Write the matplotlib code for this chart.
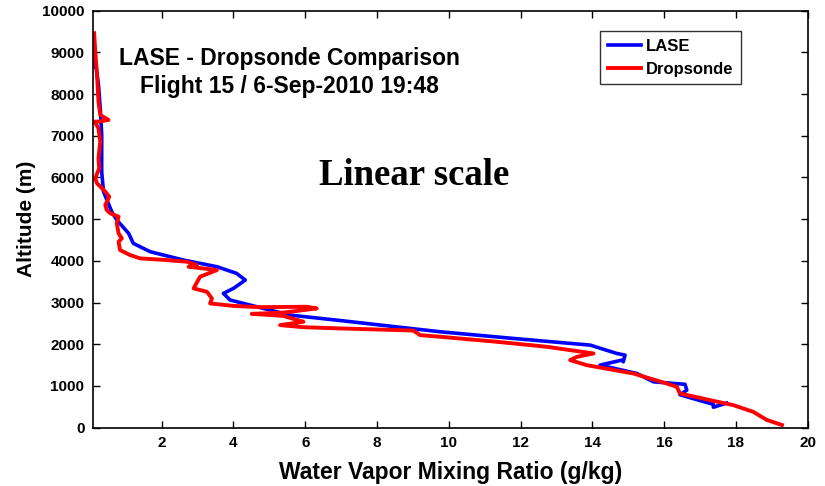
import matplotlib
matplotlib.use("Agg")
import matplotlib.pyplot as plt

# LASE profile (g/kg, m), traced top to bottom
lase_q = [0.15, 0.13, 0.24, 0.29, 0.33, 0.33, 0.38, 0.61, 0.75, 1.08, 1.21, 1.68,
          2.61, 3.54, 4.09, 4.33, 4.0, 3.72, 3.91, 4.56, 5.58, 6.97, 9.76, 11.8,
          13.94, 14.68, 14.91, 14.86, 14.82, 14.21, 15.24, 15.7, 16.58, 16.63,
          16.44, 17.0, 17.37, 17.37, 17.74]
lase_z = [8660, 8940, 8220, 7660, 7020, 6140, 5660, 5180, 4980, 4660, 4420, 4220,
          4020, 3860, 3700, 3540, 3340, 3220, 3060, 2920, 2700, 2570, 2300, 2140,
          1980, 1780, 1740, 1580, 1620, 1500, 1300, 1100, 1040, 900,
          790, 650, 560, 490, 590]

# Dropsonde profile (g/kg, m)
drop_q = [0.12, 0.15, 0.2, 0.24, 0.29, 0.52, 0.24, 0.13, 0.24, 0.29, 0.24, 0.26,
          0.15, 0.2, 0.43, 0.54, 0.43, 0.47, 0.57, 0.8, 0.75, 0.8, 0.89, 0.8, 0.84,
          1.12, 1.4, 2.14, 2.7, 2.98, 2.75, 3.54, 3.07, 2.89, 3.26, 3.4, 3.35, 4.0,
          4.74, 6.04, 6.32, 5.39, 4.51, 5.39, 5.95, 5.3, 5.95, 6.97, 9.01, 9.2, 9.76,
          11.34, 12.73, 14.03, 13.57, 13.38, 13.84, 15.14, 16.07, 16.35, 16.44,
          17.28, 17.93, 18.48, 18.86, 19.28]
drop_z = [9460, 9020, 8460, 7820, 7500, 7380, 7340, 7340, 7180, 6860, 6460, 6220,
          5980, 5860, 5660, 5540, 5340, 5220, 5140, 5060, 4900, 4660, 4540, 4460, 4260,
          4140, 4060, 4020, 3980, 3900, 3860, 3780, 3620, 3340, 3260, 3100, 2980, 2920,
          2890, 2900, 2860, 2760, 2730, 2680, 2540, 2460, 2410, 2380, 2330, 2220, 2180,
          2060, 1940, 1780, 1700, 1620, 1500, 1300, 1060, 980, 820,
          660, 540, 380, 185, 65]

plt.rcParams['font.family'] = ['Liberation Sans', 'DejaVu Sans']
plt.rcParams['font.weight'] = 'bold'

fig = plt.figure(figsize=(8.25, 4.86), dpi=100)
ax = fig.add_axes([0.1124, 0.12, 0.8667, 0.858])

ax.plot(lase_q, lase_z, color='#0000ff', lw=2.6, label='LASE')
ax.plot(drop_q, drop_z, color='#ff0000', lw=2.8, label='Dropsonde')

ax.set_xlim(0.08, 20)
ax.set_ylim(0, 10000)
ax.set_xticks(range(2, 21, 2))
ax.set_yticks(range(0, 10001, 1000))
ax.tick_params(direction='in', top=True, right=True, length=5, width=1,
               labelsize=11, pad=6)
for lab in ax.get_xticklabels() + ax.get_yticklabels():
    lab.set_fontweight('bold')
for s in ax.spines.values():
    s.set_linewidth(1.2)

ax.set_xlabel('Water Vapor Mixing Ratio (g/kg)', fontsize=16.5, fontweight='bold', labelpad=8)
ax.set_ylabel('Altitude (m)', fontsize=15, fontweight='bold', labelpad=4)

ax.text(0.275, 0.852, 'LASE - Dropsonde Comparison\nFlight 15 / 6-Sep-2010 19:48',
        transform=ax.transAxes, ha='center', va='center', fontsize=16.5,
        fontweight='bold', linespacing=1.3)
ax.text(0.449, 0.604, 'Linear scale', transform=ax.transAxes, ha='center', va='center',
        fontsize=26.5, fontweight='bold', family='Liberation Serif')

leg = ax.legend(loc='upper right', bbox_to_anchor=(0.907, 0.951), borderaxespad=0,
                fontsize=12, frameon=True, fancybox=False, edgecolor='black',
                handlelength=2.0, borderpad=0.45, labelspacing=0.5, handletextpad=0.3)
leg.get_frame().set_linewidth(1.0)
for t in leg.get_texts():
    t.set_fontweight('bold')

fig.savefig('out.png', dpi=100)
